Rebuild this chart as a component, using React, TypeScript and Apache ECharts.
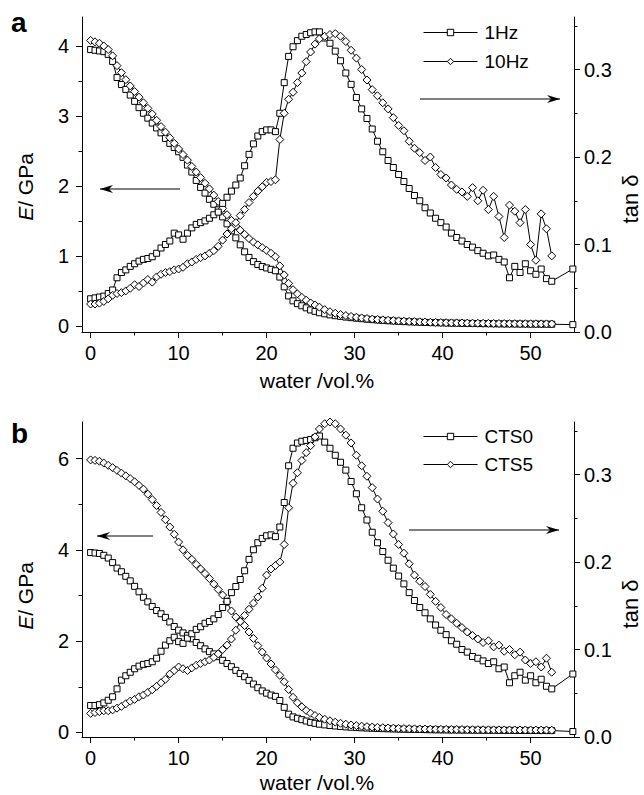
import React, { useEffect, useRef } from "react";
import * as echarts from "echarts";

// water content (vol.%) shared by all series of both panels
const WATER = [
  0, 0.5, 1, 1.5, 2, 2.5, 3, 3.5, 4, 4.5,
  5, 5.5, 6, 6.5, 7, 7.5, 8, 8.5, 9, 9.5,
  10, 10.5, 11, 11.5, 12, 12.5, 13, 13.5, 14, 14.5,
  15, 15.5, 16, 16.5, 17, 17.5, 18, 18.5, 19, 19.5,
  20, 20.5, 21, 21.5, 22, 22.5, 23, 23.5, 24, 24.5,
  25, 25.5, 26,
  26.6, 27.2, 27.8, 28.4, 29, 29.6, 30.2, 30.8, 31.4, 32,
  32.6, 33.2, 33.8, 34.4, 35, 35.6, 36.2, 36.8, 37.4, 38,
  38.6, 39.2, 39.8, 40.4, 41, 41.6, 42.2, 42.8, 43.4, 44,
  44.6, 45.2, 45.8, 46.4, 47, 47.6, 48.2, 48.8, 49.4, 50,
  50.6, 51.2, 51.8, 52.4,
];
const LAST_WATER = 54.8; // extra final point of the square series

// ---- panel a ----
const E_1HZ = [
  3.95, 3.94, 3.93, 3.92, 3.88, 3.78, 3.55, 3.45, 3.38, 3.30,
  3.21, 3.12, 3.04, 2.97, 2.90, 2.83, 2.76, 2.68, 2.61, 2.55,
  2.49, 2.41, 2.30, 2.20, 2.08, 1.98, 1.90, 1.81, 1.74, 1.66,
  1.56, 1.46, 1.36, 1.26, 1.16, 1.06, 0.98, 0.92, 0.88, 0.85,
  0.83, 0.81, 0.79, 0.70, 0.56, 0.43, 0.36, 0.32, 0.29, 0.26,
  0.23, 0.21, 0.19,
  0.175, 0.16, 0.148, 0.138, 0.128, 0.12, 0.112, 0.105, 0.098, 0.092,
  0.086, 0.081, 0.076, 0.072, 0.068, 0.064, 0.061, 0.058, 0.055, 0.052,
  0.05, 0.048, 0.046, 0.044, 0.042, 0.041, 0.04, 0.038, 0.037, 0.036,
  0.035, 0.034, 0.033, 0.032, 0.031, 0.031, 0.03, 0.029, 0.029, 0.028,
  0.028, 0.027, 0.027, 0.026,
  0.02,
];
const E_10HZ = [
  4.08, 4.06, 4.04, 4.00, 3.95, 3.86, 3.72, 3.62, 3.52, 3.43,
  3.35, 3.27, 3.19, 3.11, 3.03, 2.94, 2.85, 2.77, 2.69, 2.61,
  2.53, 2.45, 2.37, 2.28, 2.20, 2.12, 2.04, 1.96, 1.87, 1.78,
  1.68, 1.59, 1.51, 1.43, 1.37, 1.31, 1.25, 1.20, 1.16, 1.12,
  1.08, 1.04, 0.99, 0.86, 0.73, 0.61, 0.52, 0.46, 0.41, 0.37,
  0.33, 0.30, 0.27,
  0.235, 0.205, 0.183, 0.165, 0.15, 0.137, 0.126, 0.116, 0.107, 0.1,
  0.094, 0.088, 0.083, 0.078, 0.074, 0.07, 0.066, 0.063, 0.06, 0.057,
  0.054, 0.052, 0.05, 0.048, 0.046, 0.045, 0.044, 0.042, 0.041, 0.04,
  0.039, 0.038, 0.037, 0.036, 0.035, 0.034, 0.034, 0.033, 0.033, 0.032,
  0.032, 0.031, 0.031, 0.03,
];
const TAN_1HZ = [
  0.038, 0.039, 0.040, 0.041, 0.044, 0.048, 0.062, 0.068, 0.071, 0.075,
  0.078, 0.081, 0.083, 0.084, 0.086, 0.090, 0.096, 0.100, 0.104, 0.113,
  0.111, 0.106, 0.113, 0.119, 0.123, 0.125, 0.127, 0.130, 0.134, 0.137,
  0.147, 0.154, 0.161, 0.168, 0.176, 0.190, 0.203, 0.215, 0.224, 0.229,
  0.231, 0.231, 0.229, 0.250, 0.285, 0.315, 0.326, 0.333, 0.338, 0.340,
  0.342, 0.343, 0.343,
  0.336, 0.330, 0.321, 0.310, 0.296, 0.283, 0.268, 0.255, 0.244, 0.232,
  0.218, 0.206, 0.196, 0.188, 0.180, 0.172, 0.164, 0.156, 0.150, 0.142,
  0.136, 0.130, 0.125, 0.120, 0.113, 0.108, 0.104, 0.100, 0.097, 0.093,
  0.090, 0.087, 0.088, 0.083, 0.080, 0.062, 0.075, 0.068, 0.078, 0.070,
  0.066, 0.072, 0.061, 0.058,
  0.072,
];
const TAN_10HZ = [
  0.032, 0.032, 0.033, 0.035, 0.038, 0.042, 0.044, 0.045, 0.047, 0.050,
  0.054, 0.052, 0.056, 0.060, 0.057, 0.063, 0.066, 0.068, 0.069, 0.071,
  0.072, 0.074, 0.078, 0.080, 0.083, 0.085, 0.087, 0.090, 0.093, 0.098,
  0.105, 0.112, 0.118, 0.125, 0.133, 0.140, 0.148, 0.155, 0.161, 0.166,
  0.171, 0.172, 0.174, 0.220, 0.250, 0.266, 0.274, 0.285, 0.296, 0.309,
  0.320, 0.329, 0.335,
  0.338, 0.340, 0.341, 0.338, 0.332, 0.322, 0.313, 0.300, 0.288, 0.277,
  0.270, 0.262, 0.255, 0.245, 0.236, 0.230, 0.218, 0.210, 0.205, 0.196,
  0.200, 0.188, 0.180, 0.176, 0.168, 0.163, 0.160, 0.155, 0.165, 0.150,
  0.162, 0.140, 0.155, 0.132, 0.108, 0.145, 0.138, 0.125, 0.140, 0.100,
  0.082, 0.135, 0.118, 0.087,
];

// ---- panel b ----
const E_CTS0 = [
  3.94, 3.93, 3.92, 3.88, 3.82, 3.72, 3.60, 3.52, 3.42, 3.32,
  3.20, 3.08, 2.96, 2.86, 2.76, 2.67, 2.60, 2.52, 2.42, 2.32,
  2.24, 2.18, 2.12, 2.05, 1.97, 1.90, 1.83, 1.77, 1.72, 1.66,
  1.58, 1.51, 1.44, 1.36, 1.29, 1.22, 1.14, 1.06, 0.98, 0.91,
  0.86, 0.82, 0.79, 0.70, 0.55, 0.40, 0.34, 0.31, 0.28, 0.25,
  0.22, 0.20, 0.18,
  0.165, 0.152, 0.141, 0.131, 0.122, 0.114, 0.107, 0.101, 0.096, 0.091,
  0.087, 0.083, 0.079, 0.076, 0.073, 0.07, 0.068, 0.066, 0.064, 0.062,
  0.06, 0.058, 0.057, 0.055, 0.054, 0.053, 0.052, 0.051, 0.05, 0.049,
  0.048, 0.047, 0.047, 0.046, 0.045, 0.045, 0.044, 0.044, 0.043, 0.043,
  0.042, 0.042, 0.041, 0.041,
  0.02,
];
const E_CTS5 = [
  5.97, 5.96, 5.94, 5.90, 5.85, 5.80, 5.74, 5.68, 5.62, 5.56,
  5.49, 5.41, 5.33, 5.22, 5.10, 4.97, 4.82, 4.66, 4.50, 4.34,
  4.17, 4.00, 3.88, 3.79, 3.68, 3.58, 3.48, 3.37, 3.25, 3.13,
  3.01, 2.86, 2.66, 2.53, 2.44, 2.34, 2.20, 2.06, 1.90, 1.76,
  1.63, 1.50, 1.37, 1.25, 1.11, 0.94, 0.77, 0.65, 0.56, 0.48,
  0.42, 0.37, 0.33,
  0.29, 0.255, 0.225, 0.2, 0.18, 0.163, 0.149, 0.137, 0.127, 0.118,
  0.111, 0.104, 0.098, 0.093, 0.089, 0.085, 0.082, 0.079, 0.076, 0.074,
  0.072, 0.07, 0.068, 0.066, 0.065, 0.064, 0.062, 0.061, 0.06, 0.059,
  0.058, 0.057, 0.056, 0.056, 0.055, 0.054, 0.054, 0.053, 0.053, 0.052,
  0.052, 0.051, 0.051, 0.05,
];
const TAN_CTS0 = [
  0.036, 0.036, 0.037, 0.039, 0.042, 0.046, 0.055, 0.065, 0.070, 0.074,
  0.078, 0.081, 0.083, 0.084, 0.086, 0.090, 0.098, 0.105, 0.110, 0.114,
  0.109, 0.107, 0.113, 0.118, 0.123, 0.126, 0.130, 0.132, 0.135, 0.140,
  0.148, 0.155, 0.165, 0.172, 0.180, 0.190, 0.203, 0.214, 0.222, 0.227,
  0.230, 0.231, 0.229, 0.240, 0.268, 0.310, 0.330, 0.336, 0.338, 0.339,
  0.340, 0.342, 0.344,
  0.337, 0.330, 0.322, 0.314, 0.305, 0.292, 0.278, 0.262, 0.248, 0.234,
  0.222, 0.212, 0.202, 0.193, 0.184, 0.175, 0.165, 0.156, 0.148, 0.142,
  0.135, 0.128, 0.122, 0.117, 0.110, 0.106, 0.100, 0.097, 0.092, 0.090,
  0.087, 0.084, 0.086, 0.078, 0.080, 0.062, 0.070, 0.074, 0.065, 0.070,
  0.062, 0.066, 0.058, 0.055,
  0.072,
];
const TAN_CTS5 = [
  0.027, 0.028, 0.029, 0.030, 0.030, 0.031, 0.033, 0.035, 0.038, 0.041,
  0.043, 0.046, 0.048, 0.051, 0.054, 0.058, 0.062, 0.066, 0.072, 0.076,
  0.080, 0.078, 0.076, 0.079, 0.082, 0.084, 0.086, 0.088, 0.091, 0.095,
  0.100, 0.105, 0.112, 0.122, 0.132, 0.139, 0.146, 0.153, 0.160, 0.170,
  0.185, 0.192, 0.196, 0.200, 0.220, 0.262, 0.290, 0.302, 0.316, 0.325,
  0.333, 0.343, 0.352,
  0.358, 0.360, 0.358, 0.352, 0.345, 0.336, 0.322, 0.310, 0.298, 0.285,
  0.272, 0.258, 0.245, 0.232, 0.220, 0.210, 0.198, 0.185, 0.178, 0.172,
  0.163, 0.155, 0.148, 0.140, 0.135, 0.130, 0.125, 0.120, 0.116, 0.112,
  0.108, 0.110, 0.103, 0.105, 0.098, 0.100, 0.094, 0.097, 0.088, 0.084,
  0.086, 0.080, 0.090, 0.074,
];

// tick values
const X_TICKS = [0, 10, 20, 30, 40, 50];
const X_MINOR = [5, 15, 25, 35, 45];
const EA_TICKS = [0, 1, 2, 3, 4];
const EA_MINOR = [0.5, 1.5, 2.5, 3.5];
const EB_TICKS = [0, 2, 4, 6];
const EB_MINOR = [1, 3, 5];
const TAN_TICKS = [0, 0.1, 0.2, 0.3];
const TAN_MINOR = [0.05, 0.15, 0.25, 0.35];

const FONT = "'Liberation Sans', Arial, Helvetica, sans-serif";
const BLACK = "#000";
const TICK_FONT = 20;

function pairs(values: number[]) {
  return values.map((v, i) => [i < WATER.length ? WATER[i] : LAST_WATER, v]);
}

function lineSeries(name: string, values: number[], symbol: string, size: number, xi: number, yi: number) {
  return {
    type: "line",
    name,
    data: pairs(values),
    xAxisIndex: xi,
    yAxisIndex: yi,
    symbol,
    symbolSize: size,
    showSymbol: true,
    showAllSymbol: true,
    clip: false,
    lineStyle: { color: BLACK, width: 1 },
    itemStyle: { color: "#fff", borderColor: BLACK, borderWidth: 1 },
    emphasis: { disabled: true },
  };
}

function mainX(grid: number) {
  return {
    type: "value", gridIndex: grid, min: -0.98, max: 54.93, position: "bottom",
    axisLine: { show: true, onZero: false, lineStyle: { color: BLACK, width: 1 } },
    axisTick: { show: true, customValues: X_TICKS, length: 6, lineStyle: { color: BLACK } },
    axisLabel: { show: true, customValues: X_TICKS, margin: 11, fontSize: TICK_FONT, color: BLACK, fontFamily: FONT },
    splitLine: { show: false },
  };
}
function minorX(grid: number) {
  return {
    type: "value", gridIndex: grid, min: -0.98, max: 54.93, position: "bottom",
    axisLine: { show: false, onZero: false },
    axisTick: { show: true, customValues: X_MINOR, length: 3.5, lineStyle: { color: BLACK } },
    axisLabel: { show: false },
    splitLine: { show: false },
  };
}
function yAx(grid: number, pos: string, min: number, max: number, ticks: number[], minor: number[], fmt?: (v: number) => string) {
  return [
    {
      type: "value", gridIndex: grid, min, max, position: pos,
      axisLine: { show: true, onZero: false, lineStyle: { color: BLACK, width: 1 } },
      axisTick: { show: true, customValues: ticks, length: 6, lineStyle: { color: BLACK } },
      axisLabel: {
        show: true, customValues: ticks, margin: pos === "left" ? 13 : 10, fontSize: TICK_FONT, color: BLACK, fontFamily: FONT,
        formatter: fmt ? fmt : (v: number) => String(v),
      },
      splitLine: { show: false },
    },
    {
      type: "value", gridIndex: grid, min, max, position: pos,
      axisLine: { show: false, onZero: false },
      axisTick: { show: true, customValues: minor, length: 3.5, lineStyle: { color: BLACK } },
      axisLabel: { show: false },
      splitLine: { show: false },
    },
  ];
}

function arrow(x1: number, x2: number, y: number, tipAtLeft: boolean) {
  const tip = tipAtLeft ? x1 : x2;
  const d = tipAtLeft ? 1 : -1;
  return [
    { type: "line", shape: { x1, y1: y, x2, y2: y }, style: { stroke: BLACK, lineWidth: 1.2 } },
    {
      type: "polygon",
      shape: { points: [[tip, y], [tip + d * 13, y - 4], [tip + d * 9, y], [tip + d * 13, y + 4]] },
      style: { fill: BLACK },
    },
  ];
}

function vText(text: string, x: number, y: number, size: number) {
  return {
    type: "text", x, y, rotation: Math.PI / 2,
    style: {
      text, fill: BLACK, fontSize: size, fontFamily: FONT, align: "center", verticalAlign: "middle",
      rich: {
        i: { fontStyle: "italic", fontSize: size, fontFamily: FONT, fill: BLACK },
        n: { fontSize: size, fontFamily: FONT, fill: BLACK },
      },
    },
  };
}
function hText(text: string, x: number, y: number, size: number, bold: boolean, align: string) {
  return {
    type: "text", x, y,
    style: { text, fill: BLACK, fontSize: size, fontWeight: bold ? "bold" : "normal", fontFamily: FONT, align, verticalAlign: "middle" },
  };
}

function legend(name: string, top: number) {
  return {
    data: [name], left: 423, top, orient: "vertical", padding: 0, itemGap: 0,
    itemWidth: 54, itemHeight: 8, selectedMode: false,
    lineStyle: { color: BLACK, width: 1 },
    itemStyle: { color: "#fff", borderColor: BLACK, borderWidth: 1 },
    textStyle: { fontSize: 19, color: BLACK, fontFamily: FONT, padding: [0, 0, 0, 2] },
  };
}

export default function App() {
  const ref = useRef<HTMLDivElement>(null);
  useEffect(() => {
    if (!ref.current) return;
    const chart = echarts.init(ref.current, undefined, { renderer: "svg" });
    const option = {
      animation: false,
      backgroundColor: "#fff",
      textStyle: { fontFamily: FONT },
      grid: [
        { left: 82, top: 17, width: 492, height: 315 },
        { left: 82, top: 422, width: 492, height: 315 },
      ],
      xAxis: [mainX(0), minorX(0), mainX(1), minorX(1)],
      yAxis: [
        ...yAx(0, "left", -0.085, 4.415, EA_TICKS, EA_MINOR),
        ...yAx(0, "right", 0, 0.36, TAN_TICKS, TAN_MINOR, (v: number) => v.toFixed(1)),
        ...yAx(1, "left", -0.1, 6.8, EB_TICKS, EB_MINOR),
        ...yAx(1, "right", 0, 0.36, TAN_TICKS, TAN_MINOR, (v: number) => v.toFixed(1)),
      ],
      legend: [legend("1Hz", 23), legend("10Hz", 52), legend("CTS0", 427), legend("CTS5", 455)],
      series: [
        lineSeries("1Hz", E_1HZ, "rect", 6, 0, 0),
        lineSeries("10Hz", E_10HZ, "diamond", 8, 0, 0),
        lineSeries("1Hz", TAN_1HZ, "rect", 6, 0, 2),
        lineSeries("10Hz", TAN_10HZ, "diamond", 8, 0, 2),
        lineSeries("CTS0", E_CTS0, "rect", 6, 2, 4),
        lineSeries("CTS5", E_CTS5, "diamond", 8, 2, 4),
        lineSeries("CTS0", TAN_CTS0, "rect", 6, 2, 6),
        lineSeries("CTS5", TAN_CTS5, "diamond", 8, 2, 6),
      ],
      graphic: [
        hText("a", 11, 22, 28, true, "left"),
        hText("b", 11, 433, 28, true, "left"),
        vText("{i|E}{n|/ GPa}", 25, 187, 21),
        vText("{i|E}{n|/ GPa}", 25, 596, 21),
        vText("tan δ", 630, 199, 22),
        vText("tan δ", 630, 604, 22),
        hText("water /vol.%", 317, 380, 21, false, "center"),
        hText("water /vol.%", 317, 782, 21, false, "center"),
        ...arrow(100, 180, 189, true),
        ...arrow(420, 560, 99, false),
        ...arrow(97, 153, 536, true),
        ...arrow(409, 559, 530, false),
      ],
    };
    chart.setOption(option as any);
    return () => chart.dispose();
  }, []);
  return (
    <div
      ref={ref}
      style={{ position: "absolute", left: 0, top: 0, width: 644, height: 795, background: "#fff" }}
    />
  );
}
